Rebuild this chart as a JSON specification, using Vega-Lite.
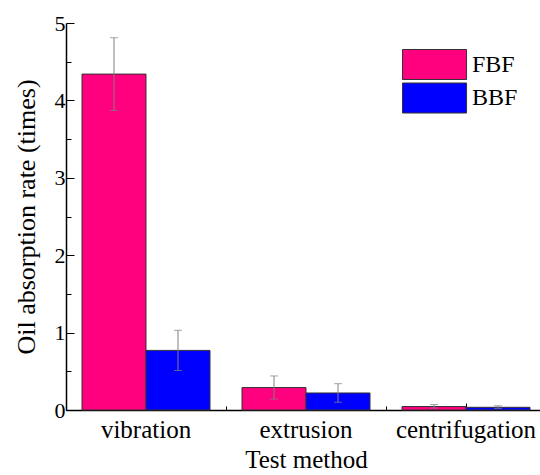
{
  "$schema": "https://vega.github.io/schema/vega-lite/v6.json",
  "width": 480,
  "height": 387,
  "padding": {"left": 13, "top": 12, "right": 0, "bottom": 0},
  "background": "white",
  "config": {
    "view": {"stroke": null},
    "font": "'Liberation Serif', 'Times New Roman', serif",
    "axis": {"labelFont": "'Liberation Serif', 'Times New Roman', serif", "titleFont": "'Liberation Serif', 'Times New Roman', serif", "domainColor": "black", "tickColor": "black", "labelColor": "black", "titleColor": "black", "titleFontWeight": "normal", "grid": false, "domainWidth": 1.5, "tickWidth": 1},
    "legend": {"labelFont": "'Liberation Serif', 'Times New Roman', serif"}
  },
  "data": {
    "values": [
      {"method": "vibration", "series": "FBF", "value": 4.34, "lo": 3.87, "hi": 4.81},
      {"method": "vibration", "series": "BBF", "value": 0.77, "lo": 0.51, "hi": 1.03},
      {"method": "extrusion", "series": "FBF", "value": 0.29, "lo": 0.14, "hi": 0.44},
      {"method": "extrusion", "series": "BBF", "value": 0.22, "lo": 0.10, "hi": 0.34},
      {"method": "centrifugation", "series": "FBF", "value": 0.045, "lo": 0.025, "hi": 0.07},
      {"method": "centrifugation", "series": "BBF", "value": 0.035, "lo": 0.02, "hi": 0.055}
    ]
  },
  "resolve": {"axis": {"x": "independent", "y": "independent"}},
  "layer": [
    {
      "mark": {"type": "bar", "stroke": "#333", "strokeWidth": 1},
      "encoding": {
        "x": {"field": "method", "type": "nominal", "sort": ["vibration", "extrusion", "centrifugation"], "scale": {"paddingInner": 0, "paddingOuter": 0},
          "axis": {"title": "Test method", "labelAngle": 0, "labelFontSize": 25, "titleFontSize": 25, "tickSize": -7, "labelPadding": 14, "titlePadding": 5}},
        "xOffset": {"field": "series", "sort": ["FBF", "BBF"], "scale": {"paddingInner": 0, "paddingOuter": 0.25}},
        "y": {"field": "value", "type": "quantitative", "scale": {"domain": [0, 5], "nice": false},
          "axis": {"values": [0, 1, 2, 3, 4, 5], "tickSize": -8, "labelFontSize": 22, "labelPadding": 9, "title": "Oil absorption rate (times)", "titleFontSize": 26, "titlePadding": 15}},
        "color": {"field": "series", "type": "nominal", "sort": ["FBF", "BBF"], "scale": {"domain": ["FBF", "BBF"], "range": ["#FF007F", "#0000FF"]},
          "legend": {"title": null, "orient": "none", "legendX": 336, "legendY": 26, "symbolType": "M-1,-1H3.27V1H-1Z", "symbolSize": 900, "symbolStrokeColor": "#333", "symbolStrokeWidth": 1, "symbolOpacity": 1, "labelFontSize": 24, "labelColor": "black", "labelOffset": 39, "rowPadding": -1.5, "padding": 0}}
      }
    },
    {
      "mark": {"type": "rule", "color": "#808080", "strokeWidth": 1},
      "encoding": {
        "x": {"field": "method", "type": "nominal", "sort": ["vibration", "extrusion", "centrifugation"],
          "axis": {"bandPosition": 0, "tickSize": -4, "labels": false, "domain": false, "title": null, "orient": "bottom"}},
        "xOffset": {"field": "series", "sort": ["FBF", "BBF"]},
        "y": {"field": "lo", "type": "quantitative",
          "axis": {"values": [0.5, 1.5, 2.5, 3.5, 4.5], "tickSize": -5, "labels": false, "domain": false, "title": null, "orient": "left"}},
        "y2": {"field": "hi"}
      }
    },
    {
      "mark": {"type": "tick", "orient": "horizontal", "color": "#808080", "size": 8, "thickness": 1},
      "encoding": {
        "x": {"field": "method", "type": "nominal", "sort": ["vibration", "extrusion", "centrifugation"], "axis": null},
        "xOffset": {"field": "series", "sort": ["FBF", "BBF"]},
        "y": {"field": "hi", "type": "quantitative", "axis": null}
      }
    },
    {
      "mark": {"type": "tick", "orient": "horizontal", "color": "#808080", "size": 8, "thickness": 1},
      "encoding": {
        "x": {"field": "method", "type": "nominal", "sort": ["vibration", "extrusion", "centrifugation"], "axis": null},
        "xOffset": {"field": "series", "sort": ["FBF", "BBF"]},
        "y": {"field": "lo", "type": "quantitative", "axis": null}
      }
    }
  ]
}
